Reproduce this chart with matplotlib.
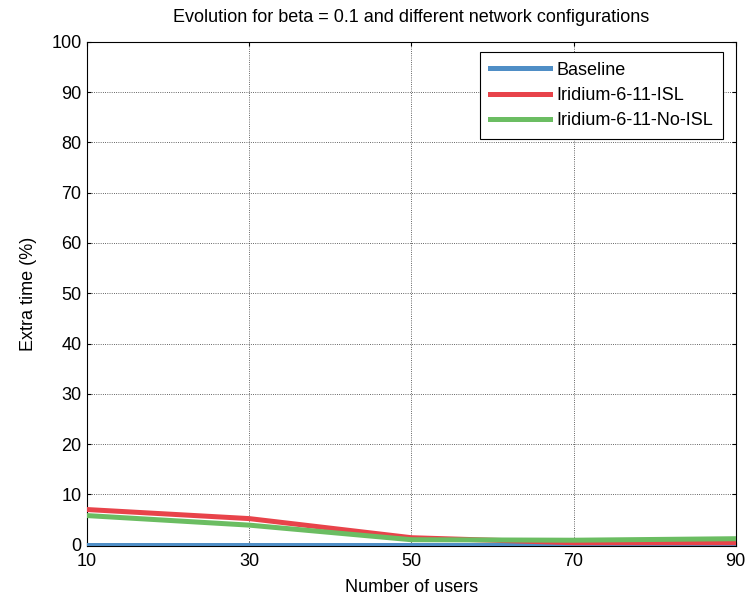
import matplotlib
matplotlib.use('Agg')
import matplotlib.pyplot as plt

# values
users = [10, 30, 50, 70, 90]
baseline = [0, 0, 0, 0, 0]
iridium_isl = [7.0, 5.2, 1.4, 0.4, 0.4]
iridium_no_isl = [5.8, 3.9, 1.0, 0.9, 1.2]

plt.rcParams['font.family'] = ['Liberation Sans', 'DejaVu Sans']

fig = plt.figure(figsize=(7.5, 5.97), dpi=100)
ax = fig.add_axes([0.116, 0.085, 0.865, 0.845])

ax.plot(users, baseline, c='#4f8ec6', lw=3.6, label='Baseline', zorder=3)
ax.plot(users, iridium_isl, c='#e8434a', lw=3.6, label='Iridium-6-11-ISL', zorder=3)
ax.plot(users, iridium_no_isl, c='#6bbd62', lw=3.6, label='Iridium-6-11-No-ISL', zorder=3)

ax.set_xlim(10, 90)
ax.set_ylim(-0.3, 100)
ax.set_xticks([10, 30, 50, 70, 90])
ax.set_yticks(range(0, 101, 10))
ax.grid(True, color='#333333', linestyle=':', linewidth=0.6)
ax.tick_params(direction='in', top=True, right=True, labelsize=13, length=3)
ax.tick_params(axis='x', pad=5)
ax.tick_params(axis='y', pad=4)
for s in ax.spines.values():
    s.set_linewidth(0.8)

ax.set_title('Evolution for beta = 0.1 and different network configurations',
             fontsize=13, pad=14)
ax.set_xlabel('Number of users', fontsize=13, labelpad=6)
ax.set_ylabel('Extra time (%)', fontsize=13, labelpad=10)

leg = ax.legend(loc='upper right', bbox_to_anchor=(0.981, 0.98), fontsize=13,
                fancybox=False, framealpha=1, edgecolor='black',
                handlelength=3.3, handletextpad=0.4, borderpad=0.55,
                labelspacing=0.45, borderaxespad=0)
leg.get_frame().set_linewidth(0.8)

fig.savefig('out.png', dpi=100)
